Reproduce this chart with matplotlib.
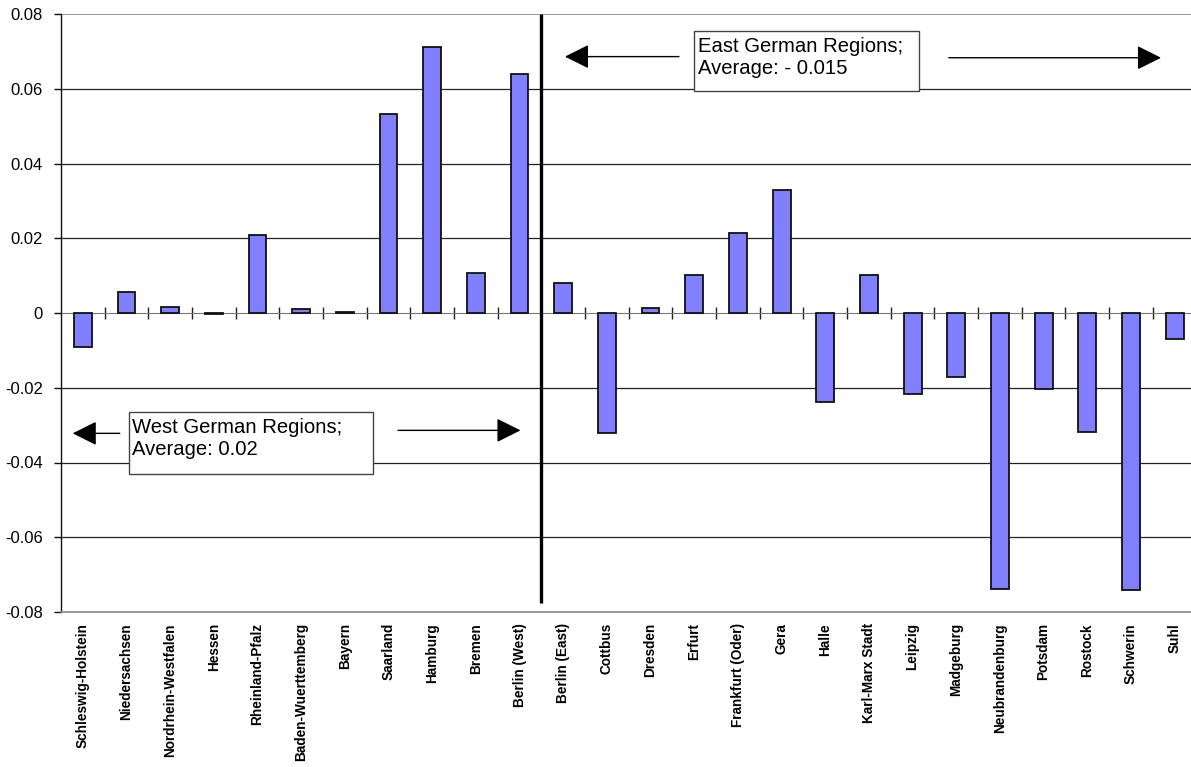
import matplotlib
matplotlib.use("Agg")
import matplotlib.pyplot as plt
from matplotlib.patches import Rectangle
from matplotlib.ticker import FuncFormatter, FixedLocator

plt.rcParams['font.family'] = ['Liberation Sans', 'DejaVu Sans']

west_regions = ["Schleswig-Holstein", "Niedersachsen", "Nordrhein-Westfalen", "Hessen",
                "Rheinland-Pfalz", "Baden-Wuerttemberg", "Bayern", "Saarland", "Hamburg",
                "Bremen", "Berlin (West)"]
west_values = [-0.0091, 0.0055, 0.0017, -0.0003, 0.0208, 0.0011, 0.0004, 0.0532, 0.0712,
               0.0107, 0.0639]
east_regions = ["Berlin (East)", "Cottbus", "Dresden", "Erfurt", "Frankfurt (Oder)", "Gera",
                "Halle", "Karl-Marx Stadt", "Leipzig", "Madgeburg", "Neubrandenburg",
                "Potsdam", "Rostock", "Schwerin", "Suhl"]
east_values = [0.0080, -0.0320, 0.0014, 0.0102, 0.0215, 0.0328, -0.0239, 0.0101, -0.0217,
               -0.0171, -0.0738, -0.0203, -0.0319, -0.0740, -0.0070]
y_ticks = [-0.08, -0.06, -0.04, -0.02, 0.0, 0.02, 0.04, 0.06, 0.08]
west_label = "West German Regions;\nAverage: 0.02"
east_label = "East German Regions;\nAverage: - 0.015"

regions = west_regions + east_regions
values = west_values + east_values
n = len(regions)
x = list(range(n))

W, H = 1191, 767
fig = plt.figure(figsize=(W / 100, H / 100), dpi=100)
step = 43.67
ax = fig.add_axes([61 / W, (H - 612) / H, n * step / W, 598 / H])

ax.set_xlim(-0.5, n - 0.5)
ax.set_ylim(-0.08, 0.08)

# horizontal gridlines
for v in y_ticks[1:-1]:
    if v != 0:
        ax.axhline(v, color="#222222", lw=0.9, zorder=0)
ax.axhline(0.08, color="#888888", lw=1.2, zorder=0)

ax.bar(x, values, width=0.41, color="#8080FF", edgecolor="#111111", linewidth=1.3, zorder=3)

# divider between west and east regions
split = len(west_regions) - 0.5
ax.plot([split, split], [-0.0775, 0.08], color="black", lw=2.4, zorder=4,
        solid_capstyle="butt")

# spines
for s in ["top", "right"]:
    ax.spines[s].set_visible(False)
ax.spines["left"].set_color("#111111")
ax.spines["left"].set_linewidth(1.0)
ax.spines["bottom"].set_color("#888888")
ax.spines["bottom"].set_linewidth(1.2)

ax.set_yticks(y_ticks)
ax.yaxis.set_major_formatter(FuncFormatter(lambda v, p: "0" if abs(v) < 1e-9 else f"{v:.2f}"))
ax.tick_params(axis="y", length=5, width=1, color="#111111", labelsize=12, pad=8)

ax.set_xticks(x)
ax.set_xticklabels(regions, rotation=90, fontweight="bold", fontsize=9.8)
ax.tick_params(axis="x", length=0, pad=8)

# category axis at zero with crossing tick marks
zero_axis = ax.secondary_xaxis(0.5)
zero_axis.xaxis.set_major_locator(FixedLocator([i + 0.5 for i in range(n)]))
zero_axis.tick_params(axis="x", direction="inout", length=8, width=1, color="#222222",
                      labelbottom=False, labeltop=False)
zero_axis.spines["bottom"].set_color("#777777")
zero_axis.spines["bottom"].set_linewidth(1.2)
zero_axis.spines["top"].set_color("#777777")

arrow_kw = dict(arrowstyle="-|>,head_length=1.0,head_width=0.5", color="black",
                lw=1.0, mutation_scale=15, shrinkA=0, shrinkB=0)

# west annotation
ax.add_patch(Rectangle((1.048, -0.0430), 6.644 - 1.048, 0.0166, facecolor="white",
                       edgecolor="#444444", lw=1.0, zorder=5))
ax.text(1.135, -0.0335, west_label, fontsize=14.6, va="center", ha="left",
        linespacing=1.2, zorder=6)
ax.annotate("", xy=(-0.232, -0.0322), xytext=(0.846, -0.0322), arrowprops=arrow_kw, zorder=6)
ax.annotate("", xy=(10.022, -0.0314), xytext=(7.217, -0.0314), arrowprops=arrow_kw, zorder=6)

# east annotation
ax.add_patch(Rectangle((13.99, 0.0595), 19.15 - 13.99, 0.016, facecolor="white",
                       edgecolor="#444444", lw=1.0, zorder=5))
ax.text(14.08, 0.0683, east_label, fontsize=14.6, va="center", ha="left",
        linespacing=1.2, zorder=6)
ax.annotate("", xy=(11.04, 0.0686), xytext=(13.65, 0.0686), arrowprops=arrow_kw, zorder=6)
ax.annotate("", xy=(24.69, 0.0683), xytext=(19.83, 0.0683), arrowprops=arrow_kw, zorder=6)

fig.savefig("out.png", dpi=100)
